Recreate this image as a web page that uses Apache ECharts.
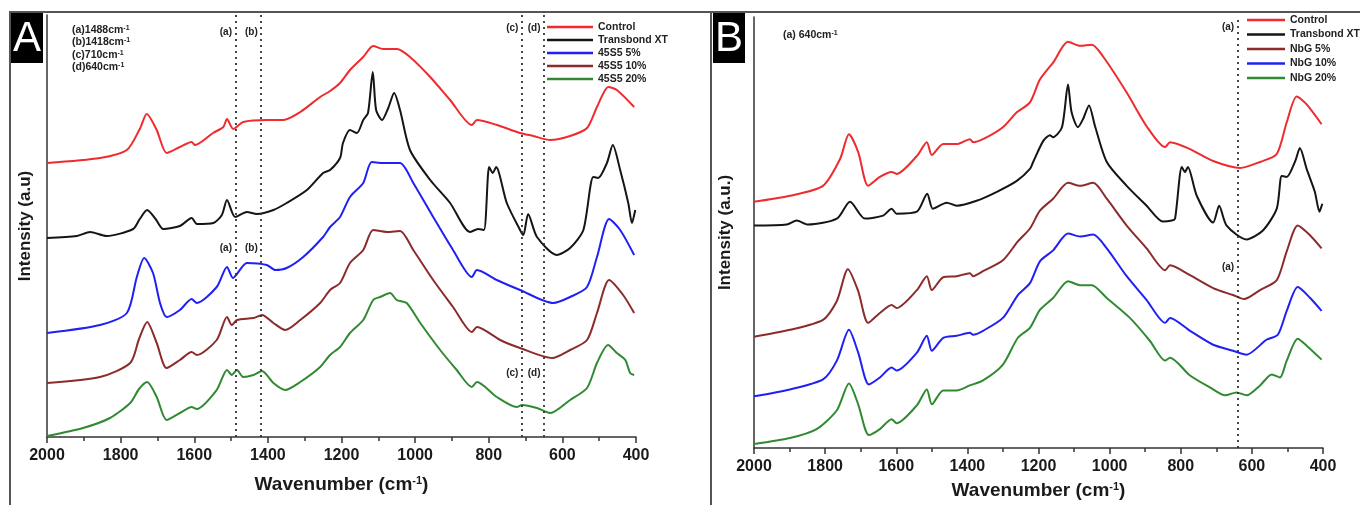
<!DOCTYPE html>
<html>
<head>
<meta charset="utf-8">
<title>FTIR spectra</title>
<script src="https://cdn.jsdelivr.net/npm/echarts@6/dist/echarts.min.js"></script>
<style>
  html, body { margin: 0; padding: 0; background: #fff; }
  #chart { width: 1360px; height: 505px; }
</style>
</head>
<body>
<div id="chart"></div>
<script>
// wavenumber (cm-1), intensity (a.u., offset stacked as in the figure)
const controlA = [[2000,274],[1856,279],[1783,287],[1748,308],[1729,323],[1702,307],[1675,284],[1639,290],[1607,295],[1598,292],[1549,304],[1521,310],[1511,318],[1494,308],[1467,315],[1403,317],[1376,317],[1358,317],[1312,325],[1258,340],[1231,346],[1204,354],[1177,367],[1141,380],[1114,391],[1087,388],[1049,388],[1014,380],[959,360],[905,337],[846,312],[832,317],[778,312],[715,304],[679,301],[633,297],[579,301],[533,309],[506,330],[475,350],[452,347],[405,330]];
const transbondA = [[2000,199],[1919,201],[1883,205],[1838,201],[1766,208],[1748,218],[1728,227],[1705,218],[1684,208],[1639,211],[1607,219],[1593,213],[1548,214],[1525,222],[1511,237],[1489,220],[1457,225],[1430,223],[1385,227],[1349,234],[1294,247],[1250,264],[1231,267],[1204,279],[1196,294],[1177,307],[1158,304],[1141,317],[1128,324],[1115,365],[1106,327],[1090,317],[1073,329],[1057,344],[1041,327],[1014,287],[959,257],[905,234],[851,205],[829,208],[813,207],[799,270],[789,264],[780,270],[751,234],[715,207],[706,202],[693,223],[669,200],[615,182],[579,189],[543,207],[516,260],[503,259],[479,274],[463,292],[443,267],[421,234],[411,214],[402,227]];
const bg5A = [[2000,104],[1856,112],[1783,124],[1756,160],[1736,179],[1712,164],[1693,134],[1675,120],[1639,127],[1607,138],[1593,134],[1539,150],[1511,170],[1495,159],[1457,174],[1403,172],[1380,167],[1349,169],[1304,180],[1250,200],[1231,210],[1204,220],[1177,240],[1141,254],[1118,275],[1087,274],[1041,274],[1005,254],[951,220],[897,187],[846,160],[832,167],[778,157],[715,147],[625,134],[579,140],[533,150],[506,180],[473,218],[443,207],[405,182]];
const bg10A = [[2000,54],[1856,60],[1774,74],[1750,98],[1728,115],[1702,94],[1675,69],[1639,77],[1607,85],[1593,82],[1539,97],[1511,120],[1498,112],[1484,117],[1439,119],[1416,122],[1385,114],[1353,107],[1312,117],[1258,134],[1231,147],[1204,154],[1177,174],[1141,187],[1114,207],[1077,205],[1041,206],[1005,187],[951,157],[897,130],[846,105],[832,110],[769,97],[715,89],[628,79],[579,87],[533,97],[506,124],[473,157],[435,142],[405,124]];
const bg20A = [[2000,1],[1902,9],[1829,19],[1774,34],[1750,48],[1728,55],[1702,40],[1675,17],[1639,24],[1607,30],[1593,28],[1539,47],[1511,67],[1498,62],[1484,67],[1467,60],[1439,62],[1416,66],[1385,54],[1353,47],[1312,55],[1258,70],[1231,82],[1204,90],[1177,104],[1141,117],[1114,137],[1095,140],[1068,144],[1050,137],[1023,134],[986,114],[932,87],[887,67],[846,50],[832,55],[778,40],[724,30],[710,32],[669,29],[633,24],[579,37],[533,49],[506,74],[476,92],[452,84],[429,77],[416,64],[405,62]];

const controlB = [[2000,249],[1899,255],[1806,265],[1758,292],[1733,317],[1707,299],[1679,265],[1646,274],[1613,279],[1599,277],[1542,295],[1514,309],[1500,296],[1468,307],[1430,307],[1393,312],[1384,309],[1356,312],[1300,324],[1261,339],[1224,349],[1196,372],[1159,389],[1117,410],[1083,406],[1050,407],[1018,395],[952,359],[896,325],[844,304],[830,309],[774,302],[709,290],[633,283],[577,289],[530,297],[502,329],[474,355],[446,347],[404,327]];
const transbondB = [[2000,225],[1908,226],[1880,230],[1848,226],[1767,232],[1730,249],[1688,232],[1637,235],[1613,242],[1599,237],[1542,239],[1513,257],[1497,242],[1458,248],[1430,245],[1374,250],[1317,259],[1261,270],[1224,282],[1215,289],[1187,310],[1168,316],[1159,314],[1134,324],[1117,367],[1107,339],[1089,324],[1075,332],[1058,346],[1041,325],[1008,289],[952,265],[896,245],[850,229],[825,230],[816,232],[797,284],[788,279],[780,284],[755,255],[709,228],[692,245],[671,225],[615,211],[569,220],[530,242],[516,275],[502,274],[478,290],[465,303],[446,282],[423,259],[410,239],[402,247]];
const nbg5B = [[2000,113],[1899,120],[1806,130],[1767,149],[1736,181],[1707,159],[1679,127],[1646,137],[1613,145],[1599,142],[1542,160],[1514,174],[1500,160],[1468,173],[1430,174],[1393,177],[1384,174],[1356,179],[1300,190],[1258,209],[1224,222],[1196,240],[1159,252],[1117,268],[1083,265],[1046,268],[1008,252],[952,225],[896,202],[844,180],[830,185],[774,175],[709,162],[653,155],[622,151],[577,160],[530,170],[502,199],[471,225],[436,215],[404,202]];
const nbg10B = [[2000,53],[1899,60],[1806,70],[1767,89],[1733,120],[1707,97],[1677,65],[1646,72],[1613,82],[1599,79],[1542,97],[1514,114],[1500,99],[1468,112],[1430,114],[1393,117],[1384,115],[1356,119],[1300,132],[1258,155],[1224,167],[1196,189],[1159,200],[1117,217],[1083,214],[1046,216],[1008,202],[952,174],[896,150],[844,127],[830,132],[774,119],[709,105],[653,99],[615,95],[559,110],[527,115],[502,139],[471,163],[436,152],[404,139]];
const nbg20B = [[2000,5],[1899,11],[1824,20],[1767,39],[1733,66],[1707,45],[1677,14],[1646,20],[1613,30],[1599,26],[1542,44],[1514,60],[1500,45],[1468,59],[1430,59],[1393,64],[1356,69],[1300,85],[1258,112],[1224,122],[1196,140],[1159,152],[1117,169],[1083,165],[1050,165],[1008,152],[943,132],[887,109],[844,89],[830,92],[774,74],[718,62],[675,54],[643,57],[615,54],[577,64],[544,75],[521,72],[502,89],[471,111],[446,104],[404,90]];

const legendA = ['Control', 'Transbond XT', '45S5 5%', '45S5 10%', '45S5 20%'];
const legendB = ['Control', 'Transbond XT', 'NbG 5%', 'NbG 10%', 'NbG 20%'];

// marked bands: [wavenumber, label]
const bandsA = [[1488, '(a)'], [1418, '(b)'], [710, '(c)'], [650, '(d)']];
const bandsB = [[640, '(a)']];
// where the band letters sit (wavenumber of the line, height in a.u.)
const bandLabelsA = [[1488, 405, '(a)'], [1418, 405, '(b)'], [710, 409, '(c)'], [650, 409, '(d)'],
                     [1488, 189, '(a)'], [1418, 189, '(b)'], [710, 64, '(c)'], [650, 64, '(d)']];
const bandLabelsB = [[640, 425, '(a)'], [640, 183, '(a)']];

const FONT = '"Liberation Sans", Arial, sans-serif';
const RED = '#ee2b2e', BLACK = '#151515', BLUE = '#2020f5', BROWN = '#8c2b2b', GREEN = '#318a31';

function xAxisFor(gridIndex, nameGap) {
  return {
    type: 'value', gridIndex: gridIndex, min: 400, max: 2000, interval: 200, inverse: true,
    name: 'Wavenumber (cm{sup|-1})', nameLocation: 'middle', nameGap: nameGap,
    nameTextStyle: {
      fontFamily: FONT, fontSize: 19, fontWeight: 'bold', color: '#1a1a1a',
      rich: { sup: { fontFamily: FONT, fontSize: 11, fontWeight: 'bold', color: '#1a1a1a', verticalAlign: 'top' } }
    },
    axisLine: { lineStyle: { color: '#333', width: 1.5 } },
    axisTick: { length: 6, lineStyle: { color: '#333', width: 1.5 } },
    minorTick: { show: true, splitNumber: 2, length: 4, lineStyle: { color: '#333', width: 1.5 } },
    axisLabel: { margin: 11, fontFamily: FONT, fontSize: 16, fontWeight: 'bold', color: '#1a1a1a',
                 formatter: v => String(v) },
    splitLine: { show: false }
  };
}

function yAxisFor(gridIndex, min, max, name, nameGap) {
  return {
    type: 'value', gridIndex: gridIndex, min: min, max: max,
    name: name, nameLocation: 'middle', nameRotate: 90, nameGap: nameGap,
    nameTextStyle: { fontFamily: FONT, fontSize: 17, fontWeight: 'bold', color: '#1a1a1a' },
    axisLine: { show: true, lineStyle: { color: '#333', width: 1.5 } },
    axisTick: { show: false }, axisLabel: { show: false }, splitLine: { show: false }
  };
}

function spectrum(name, data, color, idx) {
  return {
    type: 'line', name: name, data: data, xAxisIndex: idx, yAxisIndex: idx,
    showSymbol: false, symbol: 'none', smooth: 0.25, silent: true,
    lineStyle: { color: color, width: 2 }, itemStyle: { color: color }
  };
}

function bandMarkers(series, bands, labels) {
  series.markLine = {
    silent: true, symbol: ['none', 'none'], label: { show: false },
    lineStyle: { type: [2, 4], color: '#333', width: 1.8 },
    data: bands.map(b => ({ xAxis: b[0], name: b[1] }))
  };
  series.markPoint = {
    silent: true, symbol: 'circle', symbolSize: 1, itemStyle: { color: 'rgba(0,0,0,0)' },
    label: { show: true, position: 'left', distance: 3, formatter: p => p.name,
             fontFamily: FONT, fontSize: 10, fontWeight: 'bold', color: '#222' },
    data: labels.map(l => ({ coord: [l[0], l[1]], name: l[2] }))
  };
  return series;
}

function legendFor(left, top, names, itemWidth, gap) {
  return {
    orient: 'vertical', left: left, top: top, itemWidth: itemWidth, itemHeight: 2.5, itemGap: gap,
    icon: 'rect', selectedMode: false, padding: 0, data: names,
    textStyle: { fontFamily: FONT, fontSize: 10.5, fontWeight: 'bold', color: '#222', lineHeight: 12 }
  };
}

function panelBox(x, letter) {
  return {
    type: 'group', left: x, top: 13,
    children: [
      { type: 'rect', shape: { x: 0, y: 0, width: 32, height: 50 }, style: { fill: '#000' } },
      { type: 'text', x: 16, y: 26, style: { text: letter, fill: '#fff', font: '42px ' + FONT, align: 'center', verticalAlign: 'middle' } }
    ]
  };
}

function note(x, y, text) {
  return {
    type: 'text', x: x, y: y,
    style: {
      text: text, fill: '#222', fontFamily: FONT, fontSize: 10.5, fontWeight: 'bold', verticalAlign: 'middle',
      rich: { sup: { fontFamily: FONT, fontSize: 7, fontWeight: 'bold', fill: '#222', verticalAlign: 'top' } }
    }
  };
}

const option = {
  animation: false,
  backgroundColor: '#fff',
  grid: [
    { left: 47, right: 724, top: 15, bottom: 68 },
    { left: 754, right: 37, top: 17, bottom: 54 }
  ],
  xAxis: [xAxisFor(0, 38), xAxisFor(1, 33)],
  yAxis: [yAxisFor(0, 0, 422, 'Intensity (a.u)', 13), yAxisFor(1, 1, 435, 'Intensity (a.u.)', 20)],
  legend: [legendFor(547, 21, legendA, 46, 1), legendFor(1247, 14, legendB, 38, 2.5)],
  series: [
    bandMarkers(spectrum('Control', controlA, RED, 0), bandsA, bandLabelsA),
    spectrum('Transbond XT', transbondA, BLACK, 0),
    spectrum('45S5 5%', bg5A, BLUE, 0),
    spectrum('45S5 10%', bg10A, BROWN, 0),
    spectrum('45S5 20%', bg20A, GREEN, 0),
    bandMarkers(spectrum('Control', controlB, RED, 1), bandsB, bandLabelsB),
    spectrum('Transbond XT', transbondB, BLACK, 1),
    spectrum('NbG 5%', nbg5B, BROWN, 1),
    spectrum('NbG 10%', nbg10B, BLUE, 1),
    spectrum('NbG 20%', nbg20B, GREEN, 1)
  ],
  graphic: [
    // figure frame
    { type: 'line', shape: { x1: 9, y1: 12, x2: 1360, y2: 12 }, style: { stroke: '#555', lineWidth: 2 } },
    { type: 'line', shape: { x1: 10, y1: 12, x2: 10, y2: 505 }, style: { stroke: '#555', lineWidth: 2 } },
    { type: 'line', shape: { x1: 711, y1: 12, x2: 711, y2: 505 }, style: { stroke: '#555', lineWidth: 2 } },
    panelBox(11, 'A'),
    panelBox(713, 'B'),
    note(72, 30, '(a)1488cm{sup|-1}'),
    note(72, 42, '(b)1418cm{sup|-1}'),
    note(72, 55, '(c)710cm{sup|-1}'),
    note(72, 67, '(d)640cm{sup|-1}'),
    note(783, 35, '(a) 640cm{sup|-1}')
  ]
};

const chart = echarts.init(document.getElementById('chart'));
chart.setOption(option);
</script>
</body>
</html>
